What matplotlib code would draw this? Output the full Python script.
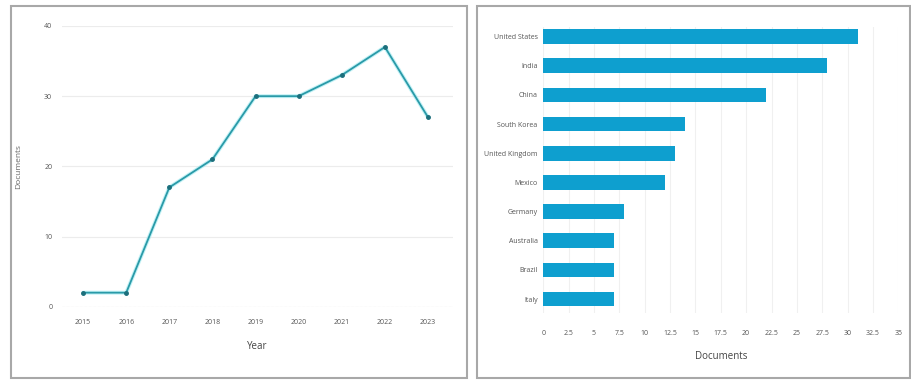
import matplotlib
matplotlib.use('Agg')
import matplotlib.pyplot as plt
from matplotlib.patches import Rectangle

years = ['2015', '2016', '2017', '2018', '2019', '2020', '2021', '2022', '2023']
docs_per_year = [2, 2, 17, 21, 30, 30, 33, 37, 27]

countries = ['United States', 'India', 'China', 'South Korea', 'United Kingdom',
             'Mexico', 'Germany', 'Australia', 'Brazil', 'Italy']
docs_per_country = [31, 28, 22, 14, 13, 12, 8, 7, 7, 7]

x_ticks_right = [0, 2.5, 5, 7.5, 10, 12.5, 15, 17.5, 20, 22.5, 25, 27.5, 30, 32.5, 35]

plt.rcParams['font.family'] = ['Open Sans', 'DejaVu Sans']
tick_color = '#555555'

fig = plt.figure(figsize=(9.12, 3.81), dpi=100)
W, H = 912, 381


def fx(px):
    return px / W


def fy(py):
    return 1 - py / H


# panel borders
for x0, x1 in [(11, 467), (477, 910)]:
    fig.patches.append(Rectangle((fx(x0), fy(378)), fx(x1) - fx(x0), fy(6) - fy(378),
                                 transform=fig.transFigure, fill=False,
                                 edgecolor='#a8a8a8', lw=1.5))

# left: documents per year
ax = fig.add_axes([fx(62), fy(306.7), fx(453) - fx(62), fy(26) - fy(306.7)])
xs = list(range(len(years)))
ax.plot(xs, docs_per_year, color='#8fe6ee', lw=2.8, alpha=0.55, solid_capstyle='round')
ax.plot(xs, docs_per_year, color='#2a9aa8', lw=1.3, marker='o', ms=2.5,
        markerfacecolor='#1c6f7c', markeredgecolor='#1c6f7c')
ax.set_xlim(-0.49, 8.58)
ax.set_ylim(0, 40)
ax.set_yticks([0, 10, 20, 30, 40])
ax.set_xticks(xs)
ax.set_xticklabels(years)
ax.grid(axis='y', color='#ececec', lw=0.8)
ax.set_axisbelow(True)
for s in ax.spines.values():
    s.set_visible(False)
ax.axhline(0, color='#e6dede', lw=0.8, ls=(0, (2, 2)))
ax.tick_params(length=0, labelsize=5, colors=tick_color, pad=9)
ax.tick_params(axis='y', pad=7)
ax.set_xlabel('Year', fontsize=7, color='#444444', labelpad=11)
ax.set_ylabel('Documents', fontsize=6, color='#666666', labelpad=16)

# right: documents per country
ax2 = fig.add_axes([fx(543.3), fy(313), fx(898.3) - fx(543.3), fy(27) - fy(313)])
ys = list(range(len(countries)))
ax2.barh(ys, docs_per_country, height=0.5, color='#0e9fcf')
ax2.set_ylim(9.48, -0.33)
ax2.set_xlim(0, 35)
ax2.set_yticks(ys)
ax2.set_yticklabels(countries)
ax2.set_xticks(x_ticks_right)
ax2.set_xticklabels([('%g' % v) for v in x_ticks_right])
ax2.grid(axis='x', color='#f0f0f0', lw=0.8)
ax2.set_axisbelow(True)
for s in ax2.spines.values():
    s.set_visible(False)
ax2.tick_params(length=0, labelsize=5, colors=tick_color)
ax2.tick_params(axis='x', pad=12)
ax2.tick_params(axis='y', pad=4)
ax2.set_xlabel('Documents', fontsize=7, color='#444444', labelpad=10)

fig.savefig('out.png', dpi=100)
